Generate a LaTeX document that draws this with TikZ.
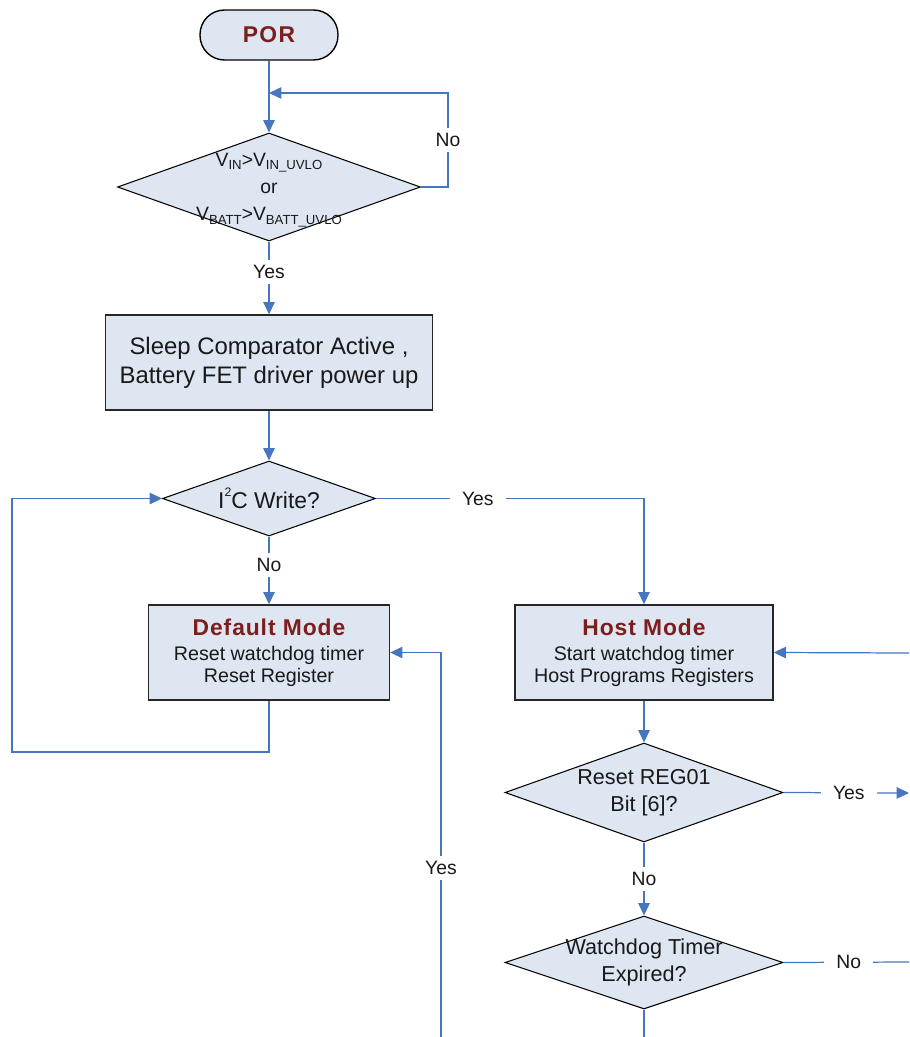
\documentclass[tikz,border=0pt]{standalone}
\usepackage{fontspec}
\setmainfont{Liberation Sans}
\usetikzlibrary{arrows.meta,shapes.geometric}
\definecolor{flowblue}{RGB}{70,118,192}
\definecolor{boxfill}{RGB}{222,230,241}
\definecolor{titlered}{RGB}{125,30,30}
\definecolor{inkgray}{RGB}{25,25,25}
\newcommand\subtxt[1]{\raisebox{-0.35ex}{\fontsize{7.5}{8}\selectfont #1}}
\newcommand\suptxt[1]{\raisebox{0.95ex}{\fontsize{7}{8}\selectfont #1}}
\newcommand\modetitle[1]{{\fontsize{13}{15}\selectfont\bfseries\addfontfeature{LetterSpace=4}\color{titlered}#1}}
\tikzset{
  >={Triangle[length=7pt,width=6.5pt]},
  terminal/.style={draw=black,fill=boxfill,line width=0.8pt,rounded corners=0.49cm,
    minimum width=2.76cm,minimum height=1cm,text=titlered,
    font=\fontsize{13}{15}\selectfont\bfseries\addfontfeature{LetterSpace=6}},
  procbox/.style={draw=black!85,fill=boxfill,line width=0.8pt,minimum height=1.9cm,
    align=center,text=inkgray},
  decision/.style={diamond,draw=black,fill=boxfill,line width=0.6pt,inner sep=0pt},
  dtext/.style={align=center,text=inkgray},
  flow/.style={->,draw=flowblue,line width=0.7pt},
  wire/.style={draw=flowblue,line width=0.7pt},
  lbl/.style={fill=white,inner xsep=7pt,inner ysep=3pt,text=inkgray,
    font=\fontsize{11}{12}\selectfont},
}
\begin{document}
\begin{tikzpicture}[x=0.02cm,y=-0.02cm]
  \useasboundingbox (0,0) rectangle (909,1037);
  % left column
  \node[terminal] (por) at (269,35) {POR};
  \node[decision,minimum width=6.06cm,minimum height=2.16cm] (vchk) at (269,187) {};
  \node[dtext,font=\fontsize{11}{15.5}\selectfont,yshift=-1.7pt] (vchktxt) at (vchk)
    {V\subtxt{IN}>V\subtxt{IN\_UVLO}\\or\\V\subtxt{BATT}>V\subtxt{BATT\_UVLO}};
  \node[procbox,minimum width=6.54cm,font=\fontsize{13.6}{16.5}\selectfont] (sleep) at (269,362.5)
    {Sleep Comparator Active ,\\Battery FET driver power up};
  \node[decision,minimum width=4.26cm,minimum height=1.5cm] (i2c) at (269,498.5) {};
  \node[dtext,font=\fontsize{13}{15}\selectfont] (i2ctxt) at (i2c) {I\suptxt{2}C Write?};
  \node[procbox,minimum width=4.82cm,font=\fontsize{11.2}{12.3}\selectfont] (dflt) at (269,652.5)
    {\modetitle{Default Mode}\\[2pt]Reset watchdog timer\\Reset Register};
  % right column
  \node[procbox,minimum width=5.16cm,font=\fontsize{11.2}{12.3}\selectfont] (host) at (644,652.5)
    {\modetitle{Host Mode}\\[2pt]Start watchdog timer\\Host Programs Registers};
  \node[decision,minimum width=5.56cm,minimum height=1.98cm] (reg) at (644,792.5) {};
  \node[dtext,font=\fontsize{12.3}{15.3}\selectfont] (regtxt) at (reg) {Reset REG01\\Bit [6]?};
  \node[decision,minimum width=5.56cm,minimum height=1.86cm] (wdt) at (644,962.5) {};
  \node[dtext,font=\fontsize{12.3}{15.3}\selectfont] (wdttxt) at (wdt) {Watchdog Timer\\Expired?};
  % loose ends at the border
  \coordinate (merge) at (269,93);
  \coordinate (loopL) at (12,752);
  \coordinate (yesin) at (441,1037);
  \coordinate (hostin) at (909,653);
  \coordinate (regout) at (909,793);
  \coordinate (wdtout) at (909,962);
  \coordinate (wdtdown) at (644,1037);
  % connectors
  \draw[flow] (por) -- (vchk.north);
  \draw[flow] (vchk.east) -- ++(27,0) |- node[lbl,pos=0.25] {No} (merge);
  \draw[flow] (vchk.south) -- node[lbl,pos=0.42] {Yes} (sleep.north);
  \draw[flow] (sleep) -- (i2c.north);
  \draw[flow] (i2c.east) -| node[lbl,pos=0.19] {Yes} (host.north);
  \draw[flow] (i2c.south) -- node[lbl,pos=0.42] {No} (dflt.north);
  \draw[flow] (dflt.south) |- (loopL) |- (i2c.west);
  \draw[flow] (yesin) |- node[lbl,pos=0.22] {Yes} (dflt.east);
  \draw[flow] (hostin) -- (host.east);
  \draw[flow] (host) -- (reg.north);
  \draw[flow] (reg.east) -- node[lbl,pos=0.52] {Yes} (regout);
  \draw[flow] (reg.south) -- node[lbl] {No} (wdt.north);
  \draw[wire] (wdt.east) -- node[lbl,pos=0.52] {No} (wdtout);
  \draw[wire] (wdt.south) -- (wdtdown);
\end{tikzpicture}
\end{document}
